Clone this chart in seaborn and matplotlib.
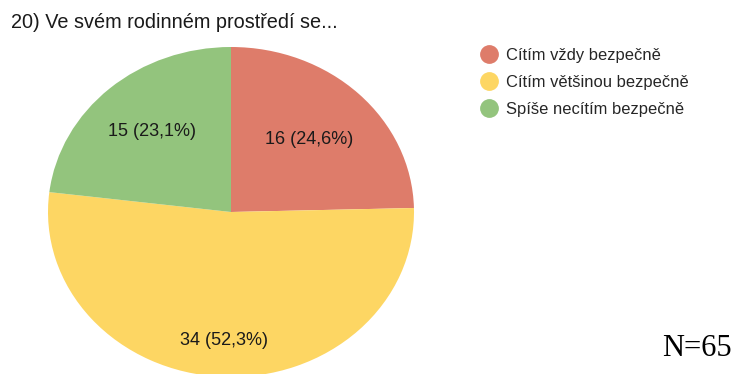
import matplotlib
matplotlib.use("Agg")
import matplotlib.pyplot as plt
from matplotlib.lines import Line2D
import numpy as np
import seaborn as sns

title = "20) Ve svém rodinném prostředí se..."
categories = ["Cítím vždy bezpečně", "Cítím většinou bezpečně", "Spíše necítím bezpečně"]
counts = [16, 34, 15]
percents = ["24,6", "52,3", "23,1"]
colors = ["#DE7C6A", "#FDD663", "#93C47D"]
note = "N=65"

sns.set_theme(style="white")
plt.rcParams["font.family"] = ["Liberation Sans", "DejaVu Sans"]

W, H = 734, 374
fig = plt.figure(figsize=(W / 100, H / 100), dpi=100)
fig.patch.set_facecolor("white")

# pie axes in pixel geometry (elliptical pie)
cx, cy, rx, ry = 231, 212, 183, 165
ax = fig.add_axes([(cx - rx) / W, (H - cy - ry) / H, 2 * rx / W, 2 * ry / H])
wedges, _ = ax.pie(counts, colors=colors, startangle=90, counterclock=False,
                   wedgeprops=dict(linewidth=0))
ax.set_aspect("auto")
ax.set_xlim(-1, 1)
ax.set_ylim(-1, 1)
ax.axis("off")

label_r = [0.61, 0.78, 0.65]
for w, n, p, r in zip(wedges, counts, percents, label_r):
    ang = np.deg2rad((w.theta1 + w.theta2) / 2)
    ax.text(r * np.cos(ang), r * np.sin(ang), f"{n} ({p}%)", ha="center", va="center",
            fontsize=13, color="#1a1a1a")

fig.text(11 / W, 1 - 23 / H, title, fontsize=14.3, ha="left", va="center", color="#1a1a1a")

handles = [Line2D([0], [0], marker="o", linestyle="none", markersize=12.5,
                  markerfacecolor=c, markeredgecolor=c) for c in colors]
fig.legend(handles, categories, loc="upper left", bbox_to_anchor=(466 / W, 1 - 33 / H),
           frameon=False, fontsize=11.9, handletextpad=0.5, labelspacing=0.72,
           handlelength=1.0)

fig.text(732 / W, 1 - 356 / H, note, fontsize=22, ha="right", va="baseline",
         family="Liberation Serif", color="black")

fig.savefig("out.png", dpi=100, facecolor="white")
